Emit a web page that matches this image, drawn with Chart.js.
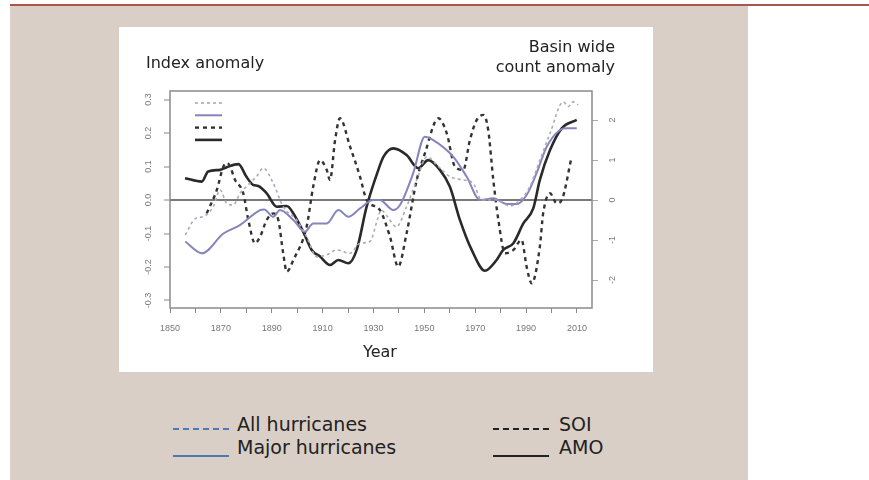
<!DOCTYPE html>
<html>
<head>
<meta charset="utf-8">
<script src="https://cdn.jsdelivr.net/npm/chart.js@4"></script>
<style>
  body { margin: 0; width: 869px; height: 480px; background: #fff; position: relative; overflow: hidden; font-family: "DejaVu Sans", sans-serif; color: #222; }
  .topline { position: absolute; left: 10px; top: 4px; width: 859px; height: 2px; background: #a9554c; }
  .beige { position: absolute; left: 10px; top: 6px; width: 738px; height: 474px; background: #d9cfc6; }
  .white { position: absolute; left: 119px; top: 27px; width: 534px; height: 345px; background: #fff; }
  .txt { position: absolute; font-size: 16px; white-space: nowrap; }
  .leg { position: absolute; font-size: 19px; line-height: 22px; white-space: nowrap; }
  .sample { position: absolute; height: 0; width: 56px; }
</style>
</head>
<body>
<div class="topline"></div>
<div class="beige"></div>
<div class="white"><canvas id="c" width="534" height="345"></canvas></div>

<div class="txt" style="left:146px; top:53px;">Index anomaly</div>
<div class="txt" style="right:254px; top:37px; text-align:right; line-height:20px;">Basin wide<br>count anomaly</div>
<div class="txt" style="left:363px; top:342px;">Year</div>

<div class="sample" style="left:173px; top:428px; border-top:2px dashed #4f79b0;"></div>
<div class="leg" style="left:237px; top:413px;">All hurricanes</div>
<div class="sample" style="left:173px; top:455px; border-top:2px solid #4f79b0;"></div>
<div class="leg" style="left:237px; top:436px;">Major hurricanes</div>
<div class="sample" style="left:493px; top:428px; border-top:2px dashed #222;"></div>
<div class="leg" style="left:559px; top:413px;">SOI</div>
<div class="sample" style="left:493px; top:455px; border-top:2px solid #222;"></div>
<div class="leg" style="left:559px; top:436px;">AMO</div>

<script>
// data
const allYears = [1856, 1860, 1863, 1867, 1869.7, 1872.3, 1874.9, 1877.5, 1880, 1884, 1886.7, 1890.6, 1894.5, 1899.8, 1903.7, 1907.7, 1911.6, 1915.5, 1920.8, 1924.7, 1928.6, 1931.5, 1933, 1935.5, 1939, 1943, 1947, 1951, 1955.5, 1960, 1965.3, 1969.2, 1972.5, 1978.4, 1983.6, 1987.6, 1991.5, 1995.4, 1999.4, 2004.6, 2006.6, 2008.5, 2010.5];
const allValues = [-0.104, -0.055, -0.05, -0.02, 0.03, -0.01, -0.015, 0.02, 0.04, 0.07, 0.095, 0.05, -0.02, -0.06, -0.11, -0.169, -0.164, -0.149, -0.159, -0.129, -0.124, -0.06, -0.03, -0.05, -0.08, -0.02, 0.06, 0.129, 0.1, 0.07, 0.06, 0.05, 0, 0, -0.018, 0, 0.04, 0.119, 0.199, 0.293, 0.279, 0.293, 0.284];

const majorYears = [1856, 1862.5, 1871, 1877.5, 1885.4, 1887, 1890.6, 1893.2, 1898.5, 1903, 1906.3, 1911.6, 1916.2, 1920.1, 1924.7, 1929.9, 1932.5, 1937.8, 1940.4, 1945.6, 1950.2, 1953.5, 1961.4, 1966.6, 1971.9, 1977.1, 1982.4, 1986.3, 1990.2, 1994.1, 1998.1, 2003.3, 2005.9, 2009.9];
const majorValues = [-0.124, -0.159, -0.1, -0.075, -0.03, -0.028, -0.05, -0.03, -0.06, -0.095, -0.07, -0.07, -0.03, -0.05, -0.025, 0, 0, -0.03, -0.015, 0.08, 0.189, 0.179, 0.129, 0.07, 0, 0.005, -0.012, -0.012, 0.015, 0.08, 0.159, 0.209, 0.214, 0.214];

const soiYears = [1864.4, 1868.4, 1871, 1872.5, 1873.6, 1875.6, 1878.8, 1880.8, 1883.4, 1885.4, 1888, 1890.6, 1892.6, 1894.5, 1895.9, 1898.5, 1903.7, 1906.3, 1909, 1911.6, 1912.9, 1914.9, 1916.8, 1920.8, 1924.7, 1927.3, 1932.5, 1936.5, 1939.7, 1943, 1947, 1950.2, 1955.5, 1958.8, 1962, 1965.3, 1967.9, 1970.6, 1973.2, 1975.1, 1977.1, 1979.1, 1981.7, 1985, 1988.2, 1990.2, 1992.2, 1995.4, 1996.7, 1999.4, 2002, 2004, 2007.9];
const soiValues = [-0.04, 0.03, 0.1, 0.11, 0.1, 0.06, 0.02, -0.06, -0.129, -0.11, -0.06, -0.04, -0.06, -0.159, -0.214, -0.179, -0.08, 0.04, 0.119, 0.09, 0.06, 0.179, 0.244, 0.159, 0.07, 0, -0.03, -0.11, -0.199, -0.1, 0.06, 0.139, 0.244, 0.199, 0.1, 0.09, 0.179, 0.239, 0.254, 0.209, 0.06, -0.06, -0.159, -0.149, -0.119, -0.199, -0.249, -0.139, -0.04, 0.02, -0.01, 0, 0.129];

const amoYears = [1855.9, 1862.5, 1865, 1869.7, 1872.3, 1876.9, 1880, 1882.7, 1884.7, 1888, 1892, 1895.9, 1898.5, 1902.4, 1905.7, 1909, 1912.9, 1916.2, 1920.1, 1923.4, 1927.3, 1931.9, 1934, 1937.8, 1943, 1947.6, 1951.5, 1956.1, 1960, 1964, 1968.6, 1973.8, 1978.4, 1981, 1985, 1988.9, 1992.8, 1995.4, 1999.4, 2004, 2009.9];
const amoValues = [0.065, 0.055, 0.085, 0.09, 0.098, 0.107, 0.07, 0.045, 0.042, 0.02, -0.02, -0.018, -0.04, -0.095, -0.149, -0.169, -0.194, -0.179, -0.189, -0.149, -0.02, 0.09, 0.13, 0.154, 0.134, 0.095, 0.119, 0.09, 0.04, -0.06, -0.149, -0.211, -0.179, -0.149, -0.129, -0.07, -0.025, 0.06, 0.149, 0.214, 0.239];

const xTicks = [1850, 1870, 1890, 1910, 1930, 1950, 1970, 1990, 2010];
const leftTicks = [-0.3, -0.2, -0.1, 0.0, 0.1, 0.2, 0.3];
const rightTicks = [-2, -1, 0, 1, 2];

const pts = (xs, ys) => xs.map((x, i) => ({ x: x, y: ys[i] }));

const tickFont = { family: "Liberation Sans", size: 9 };
const tickGray = "#777";

// R-style box around the plot + little key in the corner
const frame = {
  id: "frame",
  afterDatasetsDraw(chart) {
    const { ctx, chartArea: a } = chart;
    ctx.save();
    ctx.strokeStyle = "#8a8a8a";
    ctx.lineWidth = 1.5;
    ctx.strokeRect(a.left, a.top, a.right - a.left, a.bottom - a.top);
    chart.data.datasets.forEach((ds, i) => {
      const y = a.top + 12 + i * 12.3;
      ctx.beginPath();
      ctx.strokeStyle = ds.borderColor;
      ctx.lineWidth = ds.borderWidth;
      ctx.setLineDash(ds.borderDash || []);
      ctx.moveTo(a.left + 25, y);
      ctx.lineTo(a.left + 52, y);
      ctx.stroke();
    });
    ctx.restore();
  }
};

new Chart(document.getElementById("c"), {
  type: "line",
  data: {
    datasets: [
      { label: "All hurricanes", data: pts(allYears, allValues), borderColor: "#a9a9bd", borderWidth: 1.6, borderDash: [3, 3] },
      { label: "Major hurricanes", data: pts(majorYears, majorValues), borderColor: "#8585bb", borderWidth: 2 },
      { label: "SOI", data: pts(soiYears, soiValues), borderColor: "#333", borderWidth: 2.4, borderDash: [4, 4] },
      { label: "AMO", data: pts(amoYears, amoValues), borderColor: "#2a2a2a", borderWidth: 2.6 }
    ]
  },
  options: {
    responsive: false,
    devicePixelRatio: 1,
    animation: false,
    layout: { padding: { top: 64, left: 0, right: 0, bottom: 0 } },
    elements: { point: { radius: 0 }, line: { cubicInterpolationMode: "monotone", fill: false } },
    plugins: { legend: { display: false }, tooltip: { enabled: false } },
    scales: {
      x: {
        type: "linear", min: 1850, max: 2015.9,
        afterFit: s => { s.height = 64; },
        afterBuildTicks: s => { s.ticks = []; for (let v = 1850; v <= 2010; v += 10) s.ticks.push({ value: v }); },
        ticks: { autoSkip: false, maxRotation: 0, padding: 10, color: tickGray, font: tickFont,
          callback: v => xTicks.includes(v) ? String(v) : "" },
        grid: { drawOnChartArea: false, tickLength: 5, tickColor: "#888", tickWidth: 1 },
        border: { display: false }
      },
      y: {
        position: "left", min: -0.3224, max: 0.3254,
        afterFit: s => { s.width = 51; },
        afterBuildTicks: s => { s.ticks = leftTicks.map(v => ({ value: v })); },
        ticks: { minRotation: 90, maxRotation: 90, crossAlign: "center", padding: 8, color: tickGray, font: tickFont,
          callback: v => v.toFixed(1) },
        grid: { tickLength: 6, tickColor: "#888", tickWidth: 1,
          color: c => c.tick && c.tick.value === 0 ? "#7a7a7a" : "rgba(0,0,0,0)",
          lineWidth: c => c.tick && c.tick.value === 0 ? 2 : 0 },
        border: { display: false }
      },
      y2: {
        position: "right", min: -2.7, max: 2.725,
        afterFit: s => { s.width = 61; },
        afterBuildTicks: s => { s.ticks = rightTicks.map(v => ({ value: v })); },
        ticks: { minRotation: 90, maxRotation: 90, crossAlign: "center", padding: 11, color: tickGray, font: tickFont },
        grid: { drawOnChartArea: false, tickLength: 6, tickColor: "#aaa", tickWidth: 1 },
        border: { display: false }
      }
    }
  },
  plugins: [frame]
});
</script>
</body>
</html>
